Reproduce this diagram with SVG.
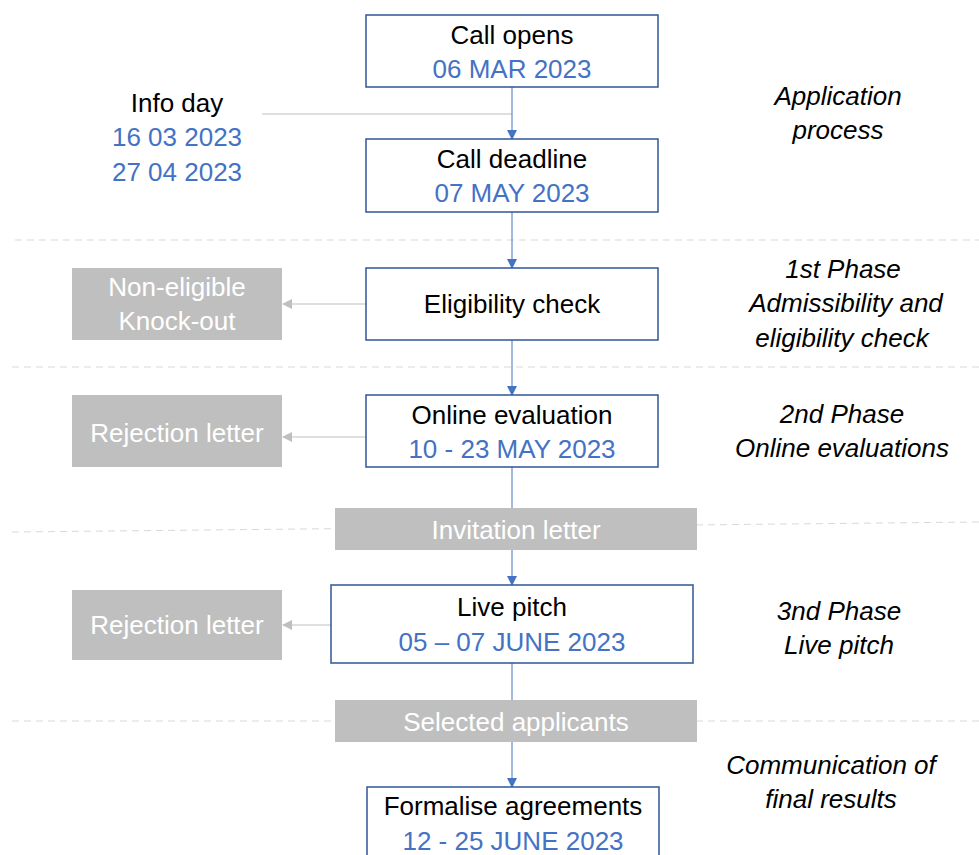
<svg xmlns="http://www.w3.org/2000/svg" width="979" height="855" viewBox="0 0 979 855">
<defs>
<style>
.t{font-family:"Liberation Sans",Arial,sans-serif;font-size:26px;text-anchor:middle}
.k{fill:#000}
.b{fill:#4472C4}
.w{fill:#fff}
.i{font-family:"Liberation Sans",Arial,sans-serif;font-size:26px;font-style:italic;text-anchor:middle;fill:#000}
.box{fill:#fff;stroke:#2F5597;stroke-width:1.5}
.gb{fill:#BFBFBF}
.dash{stroke:#D9D9D9;stroke-width:1;stroke-dasharray:7 5;fill:none}
.cb{stroke:#4472C4;stroke-width:1;fill:none}
.cg{stroke:#BFBFBF;stroke-width:1;fill:none}
</style>
<marker id="ab" markerWidth="10" markerHeight="10" refX="9" refY="5" orient="auto" markerUnits="userSpaceOnUse"><path d="M0,0 L10,5 L0,10 Z" fill="#4472C4"/></marker>
<marker id="ag" markerWidth="10" markerHeight="10" refX="9" refY="5" orient="auto" markerUnits="userSpaceOnUse"><path d="M0,0 L10,5 L0,10 Z" fill="#BFBFBF"/></marker>
</defs>
<rect width="979" height="855" fill="#fff"/>
<g id="separators">
<line class="dash" x1="15" y1="240" x2="979" y2="240"/>
<line class="dash" x1="12" y1="367" x2="979" y2="367"/>
<line class="dash" x1="12" y1="532" x2="979" y2="522"/>
<line class="dash" x1="12" y1="721" x2="979" y2="721"/>
</g>
<g id="connectors">
<line class="cg" x1="262" y1="114" x2="512" y2="114"/>
<line class="cb" x1="512" y1="87" x2="512" y2="139" marker-end="url(#ab)"/>
<line class="cb" x1="512" y1="212" x2="512" y2="268" marker-end="url(#ab)"/>
<line class="cb" x1="512" y1="340" x2="512" y2="395" marker-end="url(#ab)"/>
<line class="cb" x1="512" y1="467" x2="512" y2="508"/>
<line class="cb" x1="512" y1="550" x2="512" y2="585" marker-end="url(#ab)"/>
<line class="cb" x1="512" y1="663" x2="512" y2="700"/>
<line class="cb" x1="512" y1="742" x2="512" y2="787" marker-end="url(#ab)"/>
<line class="cg" x1="366" y1="304" x2="283" y2="304" marker-end="url(#ag)"/>
<line class="cg" x1="366" y1="437" x2="283" y2="437" marker-end="url(#ag)"/>
<line class="cg" x1="331" y1="625" x2="283" y2="625" marker-end="url(#ag)"/>
</g>
<g id="call-opens">
<rect class="box" x="366" y="15" width="292" height="72"/>
<text class="t k" x="512" y="44">Call opens</text>
<text class="t b" x="512" y="78">06 MAR 2023</text>
</g>
<g id="info-day">
<text class="t k" x="177" y="112">Info day</text>
<text class="t b" x="177" y="146">16 03 2023</text>
<text class="t b" x="177" y="181">27 04 2023</text>
</g>
<g id="call-deadline">
<rect class="box" x="366" y="139" width="292" height="73"/>
<text class="t k" x="512" y="168">Call deadline</text>
<text class="t b" x="512" y="202">07 MAY 2023</text>
</g>
<g id="eligibility-check">
<rect class="box" x="366" y="268" width="292" height="72"/>
<text class="t k" x="512" y="313">Eligibility check</text>
</g>
<g id="non-eligible">
<rect class="gb" x="72" y="268" width="210" height="72"/>
<text class="t w" x="177" y="296">Non-eligible</text>
<text class="t w" x="177" y="330">Knock-out</text>
</g>
<g id="online-evaluation">
<rect class="box" x="366" y="395" width="292" height="72"/>
<text class="t k" x="512" y="424">Online evaluation</text>
<text class="t b" x="512" y="458">10 - 23 MAY 2023</text>
</g>
<g id="rejection-1">
<rect class="gb" x="72" y="395" width="210" height="72"/>
<text class="t w" x="177" y="442">Rejection letter</text>
</g>
<g id="invitation-letter">
<rect class="gb" x="335" y="508" width="362" height="42"/>
<text class="t w" x="516" y="539">Invitation letter</text>
</g>
<g id="live-pitch">
<rect class="box" x="331" y="585" width="362" height="78"/>
<text class="t k" x="512" y="616">Live pitch</text>
<text class="t b" x="512" y="651">05 – 07 JUNE 2023</text>
</g>
<g id="rejection-2">
<rect class="gb" x="72" y="590" width="210" height="70"/>
<text class="t w" x="177" y="634">Rejection letter</text>
</g>
<g id="selected-applicants">
<rect class="gb" x="335" y="700" width="362" height="42"/>
<text class="t w" x="516" y="731">Selected applicants</text>
</g>
<g id="formalise-agreements">
<rect class="box" x="367" y="787" width="292" height="90"/>
<text class="t k" x="513" y="815">Formalise agreements</text>
<text class="t b" x="513" y="850">12 - 25 JUNE 2023</text>
</g>
<g id="phase-labels">
<text class="i" x="838" y="105">Application</text>
<text class="i" x="838" y="139">process</text>
<text class="i" x="843" y="278">1st Phase</text>
<text class="i" x="846" y="312">Admissibility and</text>
<text class="i" x="842" y="347">eligibility check</text>
<text class="i" x="842" y="423">2nd Phase</text>
<text class="i" x="842" y="457">Online evaluations</text>
<text class="i" x="839" y="620">3nd Phase</text>
<text class="i" x="839" y="654">Live pitch</text>
<text class="i" x="831" y="774">Communication of</text>
<text class="i" x="831" y="808">final results</text>
</g>
</svg>
